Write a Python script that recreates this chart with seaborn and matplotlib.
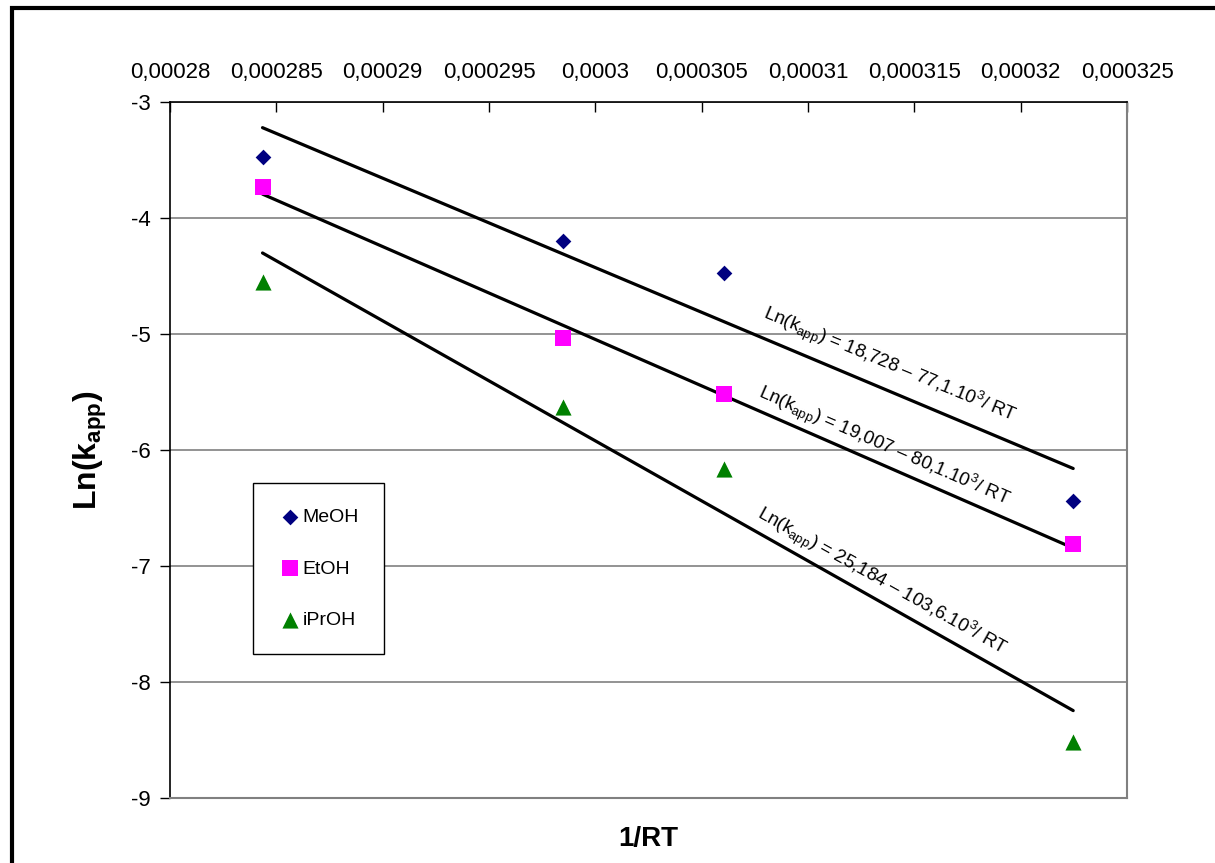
import numpy as np
import pandas as pd
import matplotlib
matplotlib.use("Agg")
import matplotlib.pyplot as plt
from matplotlib.patches import Rectangle
from matplotlib.ticker import FuncFormatter
import seaborn as sns

# ---- data ----
inv_rt = [0.00028435, 0.00029846, 0.00030606, 0.00032247]
meoh = [-3.472, -4.196, -4.477, -6.439]
etoh = [-3.729, -5.035, -5.520, -6.811]
iproh = [-4.549, -5.630, -6.166, -8.513]
series = ["MeOH", "EtOH", "iPrOH"]
equations = [
    r"Ln(k$_{\mathregular{app}}$) = 18,728 – 77,1.10$^{\mathregular{3}}$/ RT",
    r"Ln(k$_{\mathregular{app}}$) = 19,007 – 80,1.10$^{\mathregular{3}}$/ RT",
    r"Ln(k$_{\mathregular{app}}$) = 25,184 – 103,6.10$^{\mathregular{3}}$/ RT",
]
x_ticks = [0.00028, 0.000285, 0.00029, 0.000295, 0.0003, 0.000305,
           0.00031, 0.000315, 0.00032, 0.000325]
y_ticks = [-9, -8, -7, -6, -5, -4, -3]

df = pd.DataFrame({
    "x": inv_rt * 3,
    "y": meoh + etoh + iproh,
    "s": [series[0]] * 4 + [series[1]] * 4 + [series[2]] * 4,
})

sns.set_theme(style="white")
plt.rcParams["font.family"] = ["Liberation Sans", "DejaVu Sans"]
plt.rcParams["mathtext.fontset"] = "custom"
plt.rcParams["mathtext.rm"] = "Liberation Sans"
plt.rcParams["mathtext.it"] = "Liberation Sans:italic"
plt.rcParams["mathtext.bf"] = "Liberation Sans:bold"
plt.rcParams["axes.unicode_minus"] = False
for k in ["text.color", "axes.labelcolor", "xtick.color", "ytick.color"]:
    plt.rcParams[k] = "black"

fig = plt.figure(figsize=(12.15, 8.63), dpi=100)
ax = fig.add_axes([170 / 1215, 1 - 798 / 863, (1127 - 170) / 1215, (798 - 102) / 863])

colors = {"MeOH": "#000080", "EtOH": "#FF00FF", "iPrOH": "#008000"}
markers = {"MeOH": "D", "EtOH": "s", "iPrOH": "^"}
sizes = {"MeOH": 64, "EtOH": 125, "iPrOH": 135}

# gridlines
ax.set_axisbelow(True)
ax.yaxis.grid(True, color="#808080", linewidth=1.2)
ax.xaxis.grid(False)

# trendlines
for name in series:
    sub = df[df["s"] == name]
    sns.regplot(data=sub, x="x", y="y", ax=ax, scatter=False, ci=None,
                truncate=True, color="black", line_kws={"linewidth": 2.3})

# points
for name in series:
    sub = df[df["s"] == name]
    sns.scatterplot(data=sub, x="x", y="y", ax=ax, color=colors[name],
                    marker=markers[name], s=sizes[name], linewidth=0,
                    label=name, zorder=5)

ax.set_xlim(0.00028, 0.000325)
ax.set_ylim(-9, -3)
ax.set_xticks(x_ticks)
ax.set_yticks(y_ticks)

def fmt_x(v, pos):
    s = f"{v:.6f}".rstrip("0")
    return s.replace(".", ",")

ax.xaxis.set_major_formatter(FuncFormatter(fmt_x))
ax.yaxis.set_major_formatter(FuncFormatter(lambda v, p: f"{int(round(v))}"))
ax.xaxis.tick_top()
ax.xaxis.set_label_position("bottom")
ax.tick_params(axis="x", top=True, bottom=False, direction="in", length=7,
               width=1, color="black", labelsize=16, pad=14)
ax.tick_params(axis="y", left=True, direction="out", length=7, width=1,
               color="black", labelsize=16, pad=7)

for side in ["left", "top"]:
    ax.spines[side].set_color("black")
    ax.spines[side].set_linewidth(1.2)
for side in ["right", "bottom"]:
    ax.spines[side].set_color("#808080")
    ax.spines[side].set_linewidth(1.5)

ax.set_xlabel("1/RT", fontsize=20, fontweight="bold", labelpad=20)
ax.set_ylabel(r"Ln(k$_{\mathbf{app}}$)", fontsize=23, fontweight="bold", labelpad=16)

# equation annotations
ann_pos = [(0.00030785, -4.856), (0.0003076, -5.536), (0.00030757, -6.576)]
ann_rot = [-22.5, -23.5, -29.2]
for (tx, ty), rot, txt in zip(ann_pos, ann_rot, equations):
    ax.text(tx, ty, txt, fontsize=13.5, rotation=rot, rotation_mode="anchor",
            ha="left", va="baseline", color="black")

# legend
leg = ax.legend(loc="upper left", bbox_to_anchor=(0.0867, 0.4526),
                frameon=True, fancybox=False, shadow=False, fontsize=14,
                borderpad=1.3, labelspacing=1.75, handletextpad=0.05,
                handlelength=1.2, borderaxespad=0, markerscale=1.0)
leg.get_frame().set_edgecolor("black")
leg.get_frame().set_linewidth(1.0)
leg.get_frame().set_facecolor("white")
leg.get_frame().set_alpha(1)

# outer chart border
fig.patches.append(Rectangle((12 / 1215, -0.2), 1.5, 0.2 + (1 - 8 / 863),
                             transform=fig.transFigure, fill=False,
                             edgecolor="black", linewidth=3))

fig.savefig("out.png", dpi=100, facecolor="white")
